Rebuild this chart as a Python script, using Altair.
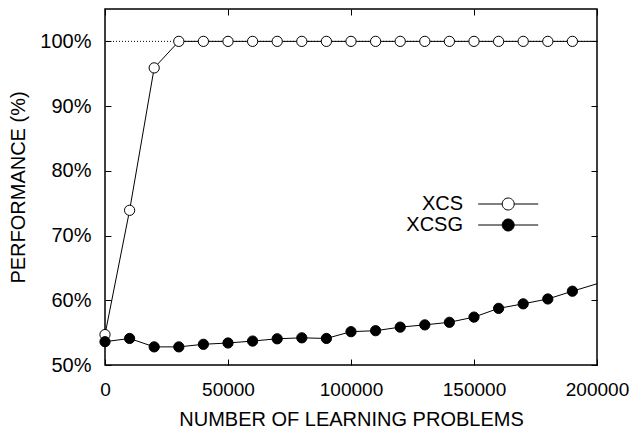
import altair as alt
import pandas as pd

# ---- data ----
problems = [0, 10000, 20000, 30000, 40000, 50000, 60000, 70000, 80000, 90000,
            100000, 110000, 120000, 130000, 140000, 150000, 160000, 170000,
            180000, 190000, 200000]
xcs = [54.7, 73.9, 95.9, 100, 100, 100, 100, 100, 100, 100,
       100, 100, 100, 100, 100, 100, 100, 100, 100, 100, 100]
xcsg = [53.6, 54.1, 52.8, 52.8, 53.2, 53.4, 53.7, 54.05, 54.2, 54.1,
        55.15, 55.3, 55.85, 56.2, 56.6, 57.4, 58.75, 59.45, 60.2, 61.4, 62.55]
series_names = ["XCS", "XCSG"]
x_ticks = [0, 50000, 100000, 150000, 200000]
y_ticks = [50, 60, 70, 80, 90, 100]
ref_level = [100]
marker_limit = 190000

FONT = "Liberation Sans"
FS = 20
W, H = 492, 356

rows = []
for name, vals in zip(series_names, [xcs, xcsg]):
    for p, v in zip(problems, vals):
        rows.append({"problems": p, "series": name, "perf": v})
df = pd.DataFrame(rows)

xscale = alt.Scale(domain=[0, 200000], nice=False, zero=False)
yscale = alt.Scale(domain=[50, 105], nice=False, zero=False)

x_main = alt.X("problems:Q", scale=xscale,
               axis=alt.Axis(values=x_ticks, format="d", title="NUMBER OF LEARNING PROBLEMS",
                             offset=-6, domain=False, tickSize=6, tickColor="black",
                             labelFlush=False, labelOverlap=False, labelFontSize=19,
                             labelPadding=15, titlePadding=10, grid=False))
y_main = alt.Y("perf:Q", scale=yscale,
               axis=alt.Axis(values=y_ticks, labelExpr="datum.value + '%'", title="PERFORMANCE (%)",
                             offset=-6, domain=False, tickSize=6, tickColor="black",
                             labelFlush=False, labelOverlap=False,
                             labelPadding=14, titlePadding=11, grid=False))

base = alt.Chart(df)

ref = alt.Chart(pd.DataFrame({"perf": ref_level})).mark_rule(
    color="black", strokeWidth=1, strokeDash=[1, 2]
).encode(y=alt.Y("perf:Q", scale=yscale))

lines = base.mark_line(color="black", strokeWidth=1, clip=True).encode(
    x=x_main, y=y_main, detail="series:N"
)

# legend key: line with marker, drawn to the right of the (right-aligned) label
LEG_PATH = "M4.2,0H8.2M10.2,0H14.2M8.2,0A1,1 0 1,0 10.2,0A1,1 0 1,0 8.2,0Z"

points = base.transform_filter(alt.datum.problems <= marker_limit).mark_point(
    filled=True, size=105, stroke="black", strokeWidth=1, opacity=1
).encode(
    x=alt.X("problems:Q", scale=xscale),
    y=alt.Y("perf:Q", scale=yscale),
    fill=alt.Fill("series:N", scale=alt.Scale(domain=series_names, range=["white", "black"]),
                  legend=alt.Legend(title=None, orient="none", legendX=338, legendY=185,
                                    symbolType=LEG_PATH, symbolSize=144,
                                    symbolStrokeColor="black", symbolStrokeWidth=1,
                                    labelAlign="right", labelOffset=0,
                                    labelFont=FONT, labelFontSize=FS, labelColor="black",
                                    rowPadding=1, padding=0)),
)

mirror = base.mark_point(opacity=0).encode(
    x=alt.X("problems:Q", scale=xscale,
            axis=alt.Axis(orient="top", values=x_ticks, labels=False, domain=False, title=None,
                          offset=-6, tickSize=6, tickColor="black", grid=False)),
    y=alt.Y("perf:Q", scale=yscale,
            axis=alt.Axis(orient="right", values=y_ticks, labels=False, domain=False, title=None,
                          offset=-6, tickSize=6, tickColor="black", grid=False)),
)

chart = alt.layer(alt.layer(ref, lines, points), mirror).resolve_scale(
    x="independent", y="independent"
).properties(
    width=W, height=H, background="white",
    padding={"left": 0, "top": 0, "right": 0, "bottom": 0}
).configure_view(
    stroke="black", strokeWidth=1.5
).configure_axis(
    labelFont=FONT, labelFontSize=FS, labelColor="black",
    titleFont=FONT, titleFontSize=FS, titleColor="black", titleFontWeight="normal",
    tickWidth=1
)

chart.save("out.html", embed_options={"renderer": "svg", "actions": False})
